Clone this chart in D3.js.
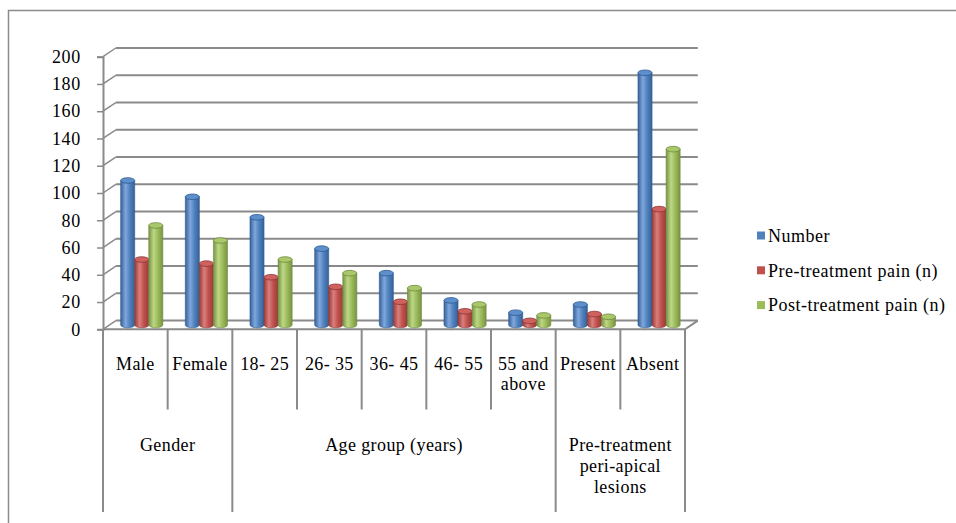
<!DOCTYPE html>
<html><head><meta charset="utf-8">
<script src="https://cdn.jsdelivr.net/npm/d3@7"></script>
<style>
html,body{margin:0;padding:0;background:#fff;}
svg{display:block;}
</style>
</head><body>
<svg id="chart" width="956" height="523"></svg>
<script>
const categories = ["Male","Female","18- 25","26- 35","36- 45","46- 55","55 and above","Present","Absent"];
const categoryLines = [["Male"],["Female"],["18- 25"],["26- 35"],["36- 45"],["46- 55"],["55 and","above"],["Present"],["Absent"]];
const groupNames = ["Gender","Age group (years)","Pre-treatment peri-apical lesions"];
const groupLines = [["Gender"],["Age group (years)"],["Pre-treatment","peri-apical","lesions"]];
const groupSpans = [2,5,2];
const seriesNames = ["Number","Pre-treatment pain (n)","Post-treatment pain (n)"];
const numberValues = [106, 94, 79, 56, 38, 18, 9, 15, 185];
const preValues    = [48, 45, 35, 28, 17, 10, 3, 8, 85];
const postValues   = [73, 62, 48, 38, 27, 15, 7, 6, 129];
const yTicks = [0,20,40,60,80,100,120,140,160,180,200];

const seriesValues = [numberValues, preValues, postValues];
const palette = [
  {base:"#4F81BD", light:"#7FA7DC", dark:"#36619A", top:"#5E8FCD", edge:"#2F5A8F"},
  {base:"#C0504D", light:"#DA7F7C", dark:"#983C39", top:"#CF625F", edge:"#8E3533"},
  {base:"#9BBB59", light:"#BDD787", dark:"#779443", top:"#A9C86A", edge:"#6E8A3C"}
];

const svg = d3.select("#chart");
const gridCol = "#8a8a8a";
const FONT = '"Liberation Serif"';
const fs = "18px";
function styleText(sel, ls) {
  return sel.style("font-family", FONT).style("font-size", fs).style("letter-spacing", ls).attr("fill","#000");
}

// outer frame
svg.append("rect").attr("x",8.5).attr("y",10.5).attr("width",1000).attr("height",600)
  .attr("fill","none").attr("stroke","#8c8c8c").attr("stroke-width",1.5);

const x0 = 103, x1 = 685;
const x = d3.scaleBand().domain(categories).range([x0, x1]).padding(0);
const xs = d3.scaleBand().domain(seriesNames).range([0, x.bandwidth()]).paddingInner(0).paddingOuter(0.8);
const y = d3.scaleLinear().domain([0,200]).range([329.3, 56.7]);
const DX = 12.8, DY = -8.7;  // depth offset to back wall
const MX = DX/2, MY = DY/2;   // mid-depth

// back wall gridlines and side diagonals
const grid = svg.append("g");
yTicks.forEach(t => {
  const yy = y(t);
  grid.append("line").attr("x1",x0+DX).attr("x2",x1+DX).attr("y1",yy+DY).attr("y2",yy+DY)
    .attr("stroke",gridCol).attr("stroke-width",2);
  grid.append("line").attr("x1",x0).attr("x2",x0+DX).attr("y1",yy).attr("y2",yy+DY)
    .attr("stroke",gridCol).attr("stroke-width",1.5);
});
// floor
grid.append("path").attr("d",`M${x0},${y(0)} L${x1},${y(0)} L${x1+DX},${y(0)+DY}`)
  .attr("fill","none").attr("stroke",gridCol).attr("stroke-width",2);

// y axis
const yAxis = d3.axisLeft(y).tickValues(yTicks).tickSize(6).tickPadding(16);
const ya = svg.append("g").attr("transform",`translate(${x0},0)`).call(yAxis);
ya.select(".domain").attr("stroke",gridCol).attr("stroke-width",2);
ya.selectAll(".tick line").attr("stroke",gridCol).attr("stroke-width",1.5);
styleText(ya.selectAll(".tick text"), "0.7px");

// defs gradients
const defs = svg.append("defs");
palette.forEach((p,i) => {
  const g = defs.append("linearGradient").attr("id","cyl"+i).attr("x1","0").attr("x2","1").attr("y1","0").attr("y2","0");
  g.append("stop").attr("offset","0%").attr("stop-color",p.dark);
  g.append("stop").attr("offset","35%").attr("stop-color",p.light);
  g.append("stop").attr("offset","65%").attr("stop-color",p.base);
  g.append("stop").attr("offset","100%").attr("stop-color",p.dark);
});

// bars (cylinders)
const bars = svg.append("g");
const w = xs.bandwidth();
const rx = w/2, ry = 2.8;
categories.forEach((c,ci) => {
  seriesNames.forEach((s,si) => {
    const v = seriesValues[si][ci];
    const bx = x(c) + xs(s) + MX;
    const yb = y(0) + MY;
    const yt = y(v) + MY;
    const p = palette[si];
    bars.append("path")
      .attr("d",`M${bx},${yt} L${bx},${yb} A${rx},${ry} 0 0 0 ${bx+w},${yb} L${bx+w},${yt} Z`)
      .attr("fill",`url(#cyl${si})`).attr("stroke",p.edge).attr("stroke-width",0.6);
    bars.append("ellipse").attr("cx",bx+rx).attr("cy",yt).attr("rx",rx).attr("ry",ry)
      .attr("fill",p.top).attr("stroke",p.edge).attr("stroke-width",0.8);
  });
});

// category axis dividers
const div = svg.append("g").attr("stroke",gridCol).attr("stroke-width",2);
const longIdx = new Set([0]);
let acc = 0; groupSpans.forEach(s => { acc += s; longIdx.add(acc); });
for (let i = 0; i <= categories.length; i++) {
  const xx = x0 + i * x.step();
  div.append("line").attr("x1",xx).attr("x2",xx).attr("y1",y(0)).attr("y2", longIdx.has(i) ? 512 : 409.5);
}

// category labels
const lab = svg.append("g").attr("text-anchor","middle");
categoryLines.forEach((lines,ci) => {
  const cx = x(categories[ci]) + x.bandwidth()/2;
  lines.forEach((ln,li) => {
    styleText(lab.append("text").attr("x",cx).attr("y",363.5 + li*20).attr("dy","0.35em"), "0.4px").text(ln);
  });
});
// group labels
let start = 0;
groupLines.forEach((lines,gi) => {
  const a = x0 + start * x.step(), b = x0 + (start + groupSpans[gi]) * x.step();
  lines.forEach((ln,li) => {
    styleText(lab.append("text").attr("x",(a+b)/2).attr("y",444.5 + li*21).attr("dy","0.35em"), "0.4px").text(ln);
  });
  start += groupSpans[gi];
});

// legend
const leg = svg.append("g");
seriesNames.forEach((s,i) => {
  const ly = 235.5 + i*34.8;
  leg.append("rect").attr("x",757).attr("y",ly-4).attr("width",8).attr("height",8).attr("fill",palette[i].base);
  styleText(leg.append("text").attr("x",768).attr("y",ly).attr("dy","0.35em"), "0.5px").text(s);
});
</script>
</body></html>
